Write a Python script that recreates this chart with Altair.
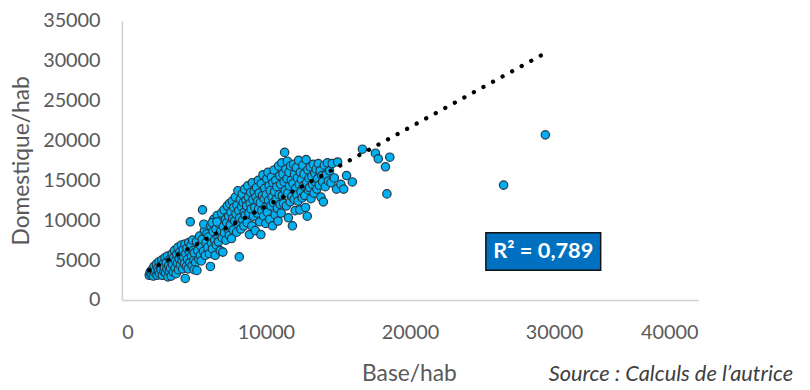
import altair as alt
import pandas as pd

# (Base/hab, Domestique/hab) pairs
points = [
    # lower band
    (1900, 3100), (1960, 3500), (2040, 3200), (2100, 3800), (2180, 3000), (2230, 4200), (2290, 3400),
    (2340, 3700), (2400, 4500), (2450, 3100), (2490, 4000),
    (2530, 3600), (2580, 4800), (2620, 3300), (2680, 4200), (2720, 3800), (2770, 5000), (2810, 3100),
    (2860, 4500), (2910, 3600), (2950, 4100), (2990, 5300),
    (3030, 3400), (3080, 4700), (3120, 3900), (3170, 5500), (3200, 2900), (3250, 4300), (3290, 3600),
    (3330, 5100), (3370, 4000), (3420, 3000), (3460, 4800), (3490, 5800),
    (3530, 4400), (3570, 3500), (3610, 5300), (3650, 6200), (3690, 4000), (3730, 4900), (3770, 3300),
    (3810, 5700), (3850, 4600), (3890, 6600), (3930, 3800), (3970, 5200),
    (4020, 6000), (4060, 4400), (4100, 5600), (4140, 6900), (4180, 4900), (4220, 3900), (4260, 6300),
    (4300, 5300), (4340, 4600), (4380, 7000), (4400, 2700), (4440, 5800), (4480, 4200),
    (4520, 6500), (4560, 5100), (4600, 3900), (4640, 7200), (4680, 6000), (4720, 4700), (4750, 9800),
    (4790, 6800), (4830, 5500), (4870, 4300), (4910, 7500), (4950, 6200), (4990, 5000),
    # middle
    (5030, 5900), (5120, 4700), (5180, 7300), (5260, 6200), (5340, 5100), (5390, 8000), (5470, 6800),
    (5010, 3800), (5210, 3700), (5440, 5600),
    (5520, 4900), (5580, 7600), (5600, 11300), (5660, 6100), (5730, 8700), (5790, 5600), (5840, 7200),
    (5910, 8300), (5960, 6600), (5690, 9500),
    (6020, 7900), (6080, 5800), (6150, 4200), (6170, 9300), (6230, 7100), (6290, 6400), (6330, 8600),
    (6380, 10100), (6440, 7500), (6480, 5600), (6260, 9700),
    (6530, 8900), (6560, 6900), (6620, 10600), (6680, 8000), (6710, 7300), (6770, 9500), (6830, 6200),
    (6860, 8600), (6920, 10900), (6970, 7800), (6600, 9800),
    (7010, 6000), (7040, 9200), (7090, 11300), (7130, 8400), (7190, 10100), (7220, 7500), (7280, 9700),
    (7320, 11800), (7370, 8900), (7410, 10500), (7460, 8100), (7480, 12100),
    (7530, 9400), (7570, 11000), (7610, 7700), (7660, 12400), (7690, 10200), (7730, 8800), (7780, 11600),
    (7830, 9900), (7880, 12900), (7920, 10800), (7970, 8500), (7990, 11900),
    (8030, 9600), (8060, 13700), (8110, 11200), (8150, 5400), (8180, 10300), (8220, 12600), (8260, 8900),
    (8310, 11700), (8350, 13300), (8390, 10000), (8420, 12200), (8470, 9300), (8490, 11000),
    (8520, 13900), (8560, 10600), (8610, 12500), (8660, 11800), (8700, 9700), (8740, 14300), (8780, 12900),
    (8820, 10900), (8860, 8200), (8900, 12100), (8940, 13500), (8970, 11400),
    (9020, 9300), (9060, 14700), (9100, 12600), (9130, 10500), (9180, 13600), (9230, 11600), (9260, 8700),
    (9310, 12900), (9350, 14100), (9390, 10900), (9430, 12400), (9470, 15000), (9490, 11400),
    (9530, 13400), (9570, 9800), (9610, 12200), (9650, 8200), (9680, 14600), (9720, 11200), (9760, 13100),
    (9800, 15700), (9840, 10500), (9880, 12700), (9920, 14000), (9960, 11600), (9990, 9600),
    (10020, 13200), (10060, 15200), (10100, 11000), (10140, 16000), (10180, 12500), (10220, 14300),
    (10260, 10100), (10300, 13700), (10340, 11800), (10380, 15400), (10420, 12900), (10460, 9300),
    (10490, 14700),
    (10520, 12200), (10560, 16300), (10600, 13600), (10640, 10700), (10680, 15000), (10720, 12600),
    (10760, 14200), (10800, 11500), (10840, 9900), (10880, 16800), (10920, 13200), (10960, 15600),
    (10990, 12000),
    # upper
    (11020, 14500), (11060, 10900), (11100, 17200), (11140, 13100), (11180, 15800), (11220, 12100),
    (11260, 14800), (11300, 18500), (11340, 13700), (11380, 16400), (11420, 11800), (11460, 15200),
    (11490, 17400),
    (11520, 13400), (11560, 10300), (11600, 16000), (11640, 14300), (11680, 12300), (11720, 16800),
    (11760, 15000), (11800, 13000), (11840, 9300), (11880, 14600), (11920, 17000), (11960, 12600),
    (11990, 15800),
    (12030, 11200), (12070, 14000), (12110, 16600), (12150, 13200), (12190, 15300), (12230, 12400),
    (12270, 17500), (12310, 14500), (12350, 11300), (12390, 16000), (12430, 13600), (12470, 15100),
    (12520, 12800), (12560, 16900), (12600, 14300), (12650, 15800), (12700, 13100), (12750, 11600),
    (12790, 17600), (12830, 14700), (12870, 10500), (12910, 16300), (12950, 13800), (12990, 15300),
    (13030, 14100), (13080, 16700), (13130, 12700), (13180, 15500), (13230, 14500), (13290, 17000),
    (13340, 13400), (13390, 15900), (13440, 14800), (13490, 16400),
    (13540, 13900), (13590, 15200), (13640, 17100), (13700, 14400), (13760, 16200), (13820, 12900),
    (13880, 15600), (13940, 14800), (13990, 12300),
    (14050, 16900), (14120, 14200), (14200, 15700), (14270, 17200), (14340, 14900), (14420, 16200),
    (14520, 14700), (14600, 17100), (14750, 15300), (14900, 13900), (14980, 17300), (15200, 14500),
    (15400, 13900),
    # sparse tail and outliers
    (15600, 15600), (16000, 14800), (16700, 18900), (17600, 18400), (17800, 17700), (18300, 16700),
    (18600, 17900), (18400, 13300), (26500, 14400), (29400, 20700),
]
base_hab = [p[0] for p in points]
domestique_hab = [p[1] for p in points]

# dotted linear trend line end points
trend_x = [1900, 29400]
trend_y = [3730, 30960]

# R² label box
r2_text = "R² = 0,789"
r2_box_x = [25270, 33240]
r2_box_y = [3730, 8420]
r2_text_pos = [29260, 6080]

x_ticks = [0, 10000, 20000, 30000, 40000]
y_ticks = [0, 5000, 10000, 15000, 20000, 25000, 30000, 35000]

FONT = "Lato"
LABEL = "#595959"

df = pd.DataFrame({"base": base_hab, "dom": domestique_hab})
trend_df = pd.DataFrame({"base": trend_x, "dom": trend_y})
box_df = pd.DataFrame({"x1": [r2_box_x[0]], "x2": [r2_box_x[1]],
                       "y1": [r2_box_y[0]], "y2": [r2_box_y[1]],
                       "tx": [r2_text_pos[0]], "ty": [r2_text_pos[1]], "t": [r2_text]})
src_df = pd.DataFrame({"t": ["Source : Calculs de l\u2019autrice"]})

xscale = alt.Scale(domain=[0, 40000], nice=False, zero=False)
yscale = alt.Scale(domain=[0, 35000], nice=False, zero=False)

xaxis = alt.Axis(values=x_ticks, format="d", title="Base/hab", grid=False, ticks=False, tickSize=0,
                 labelFont=FONT, labelFontSize=20, labelColor=LABEL, labelPadding=23,
                 domainColor="#CFCFCF", domainWidth=1.5,
                 titleFont=FONT, titleFontSize=23, titleFontWeight="normal", titleColor=LABEL,
                 titleX=290, titleY=81, titleBaseline="alphabetic", titleAlign="center")
yaxis = alt.Axis(values=y_ticks, format="d", title="Domestique/hab", grid=False, ticks=False, tickSize=0,
                 labelFont=FONT, labelFontSize=20, labelColor=LABEL, labelPadding=22,
                 domainColor="#CFCFCF", domainWidth=1.5,
                 titleFont=FONT, titleFontSize=23, titleFontWeight="normal", titleColor=LABEL,
                 titleX=-101, titleY=141, titleBaseline="middle", titleAlign="center", titleAngle=270)

pts = alt.Chart(df).mark_circle(size=72, color="#00B0F0", stroke="#243A48",
                                strokeWidth=1.2, opacity=1).encode(
    x=alt.X("base:Q", scale=xscale, axis=xaxis),
    y=alt.Y("dom:Q", scale=yscale, axis=yaxis),
)

trend = alt.Chart(trend_df).mark_line(color="black", strokeWidth=4.3, strokeCap="round",
                                      strokeDash=[0.1, 10.9]).encode(
    x=alt.X("base:Q", scale=xscale),
    y=alt.Y("dom:Q", scale=yscale),
)

box = alt.Chart(box_df).mark_rect(color="#0070C0", stroke="#111111", strokeWidth=1.5).encode(
    x=alt.X("x1:Q", scale=xscale), x2="x2:Q",
    y=alt.Y("y1:Q", scale=yscale), y2="y2:Q",
)
r2 = alt.Chart(box_df).mark_text(font=FONT, fontSize=22, fontWeight="bold", color="white",
                                 align="center", baseline="middle").encode(
    x=alt.X("tx:Q", scale=xscale), y=alt.Y("ty:Q", scale=yscale), text="t:N",
)
src = alt.Chart(src_df).mark_text(font=FONT, fontSize=22, fontStyle="italic", color="#404040",
                                  align="right", baseline="alphabetic").encode(
    x=alt.value(678), y=alt.value(364), text="t:N",
)

chart = alt.layer(pts, trend, box, r2, src).properties(
    width=582, height=282,
    padding={"left": 115, "top": 11, "right": 105, "bottom": 89},
    autosize=alt.AutoSizeParams(type="none"),
    background="white",
).configure_view(stroke=None)

chart.save("out.html", embed_options={"renderer": "svg", "actions": False})
